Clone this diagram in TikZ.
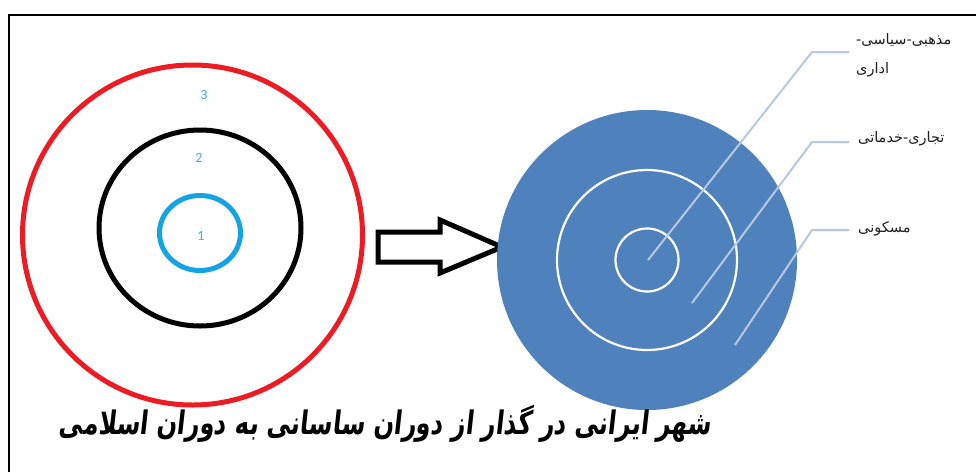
\documentclass[tikz,border=0pt]{standalone}
\usepackage{fontspec}
\TeXXeTstate=1
\newfontfamily\arabicfont[Script=Arabic]{DejaVu Sans}
\newfontfamily\titlefont[Script=Arabic,FakeSlant=0.15]{DejaVu Sans}
\newfontfamily\numfont{Carlito}
\definecolor{ringred}{HTML}{ED1C24}
\definecolor{ringcyan}{HTML}{14A4E6}
\definecolor{numcyan}{HTML}{3FAAEA}
\definecolor{discblue}{HTML}{4F81BD}
\definecolor{leader}{HTML}{B7C8E3}
\definecolor{labelgrey}{HTML}{202020}
\tikzset{
  ring/.style={line width=5pt},
  whitering/.style={draw=white,line width=2.2pt},
  leaderline/.style={draw=leader,line width=2pt},
  numlabel/.style={text=numcyan,font=\numfont\fontsize{14}{14}\selectfont,inner sep=0pt},
  zonelabel/.style={text=labelgrey,font=\arabicfont\fontsize{14.5}{16}\selectfont,inner sep=0pt,anchor=west},
  blockarrow/.style={draw=black,line width=5pt,line join=miter,fill=white}
}
\begin{document}
\begin{tikzpicture}[x=1pt,y=-1pt]
\useasboundingbox (0,0) rectangle (976,472);
\fill[white] (0,0) rectangle (976,472);
% frame
\draw[line width=1.5pt] (9,472) -- (9,15) -- (976,15);
% left concentric circles
\coordinate (redc) at (192.5,235);
\coordinate (blackc) at (200,228);
\coordinate (cyanc) at (200,233);
\draw[ring,draw=ringred] (redc) circle[radius=170];
\draw[ring,draw=black] (blackc) circle[x radius=101, y radius=98];
\draw[ring,draw=ringcyan] (cyanc) circle[x radius=40.5, y radius=37.5];
\node[numlabel] (n3) at (204,95) {3};
\node[numlabel] (n2) at (199,158) {2};
\node[numlabel] (n1) at (201,236) {1};
% block arrow
\draw[blockarrow] (378,232) -- (440,232) -- (440,220) -- (502,247) -- (440,273) -- (440,262) -- (378,262) -- cycle;
% right disc
\coordinate (disc) at (647,260);
\fill[discblue] (disc) circle[radius=150];
\draw[whitering] (disc) circle[radius=90];
\draw[whitering] (disc) circle[radius=31.5];
% leaders
\coordinate (p1) at (648,260);
\coordinate (p2) at (692,303);
\coordinate (p3) at (735,345);
\coordinate (k1) at (812,52);
\coordinate (k2) at (812,142);
\coordinate (k3) at (812,230);
\coordinate (e1) at (849,52);
\coordinate (e2) at (849,142);
\coordinate (e3) at (849,230);
\draw[leaderline] (p1) -- (k1) -- (e1);
\draw[leaderline] (p2) -- (k2) -- (e2);
\draw[leaderline] (p3) -- (k3) -- (e3);
\node[zonelabel] (z1a) at (856,40) {\beginR مذهبی-سیاسی-\endR};
\node[zonelabel] (z1b) at (856,70) {\beginR اداری\endR};
\node[zonelabel] (z2) at (858,139) {\beginR تجاری-خدماتی\endR};
\node[zonelabel] (z3) at (858,229) {\beginR مسکونی\endR};
% title
\node[inner sep=0pt] (title) at (385,424) {\scalebox{1}[1.35]{\titlefont\bfseries\fontsize{24}{28}\selectfont\beginR شهر ایرانی در گذار از دوران ساسانی به دوران اسلامی\endR}};
\end{tikzpicture}
\end{document}
